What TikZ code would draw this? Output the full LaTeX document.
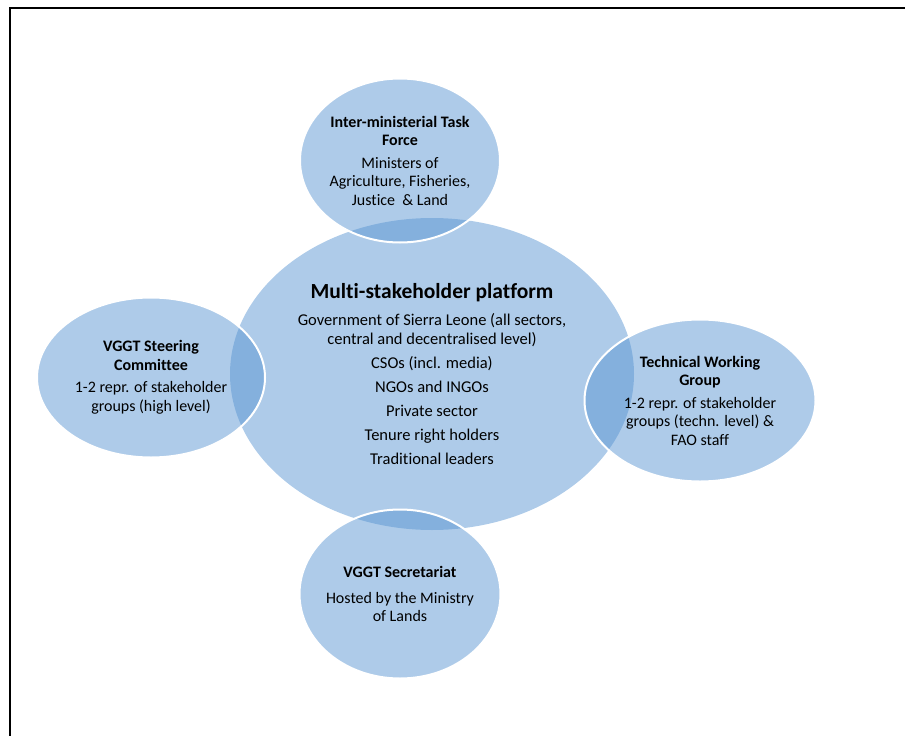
\documentclass[tikz,border=0pt]{standalone}
\usepackage{fontspec}
\setmainfont[Ligatures=CommonOff]{Carlito}
\usetikzlibrary{shapes.geometric}
\definecolor{bubble}{RGB}{86,147,209}
\begin{document}
\begin{tikzpicture}[
    x=1pt, y=-1pt,
    every node/.style={ellipse, fill=bubble, fill opacity=0.48, text opacity=1, inner sep=-12pt, align=center, font=\fontsize{16}{18.5}\selectfont},
    hub/.style={minimum width=404pt, minimum height=312pt, font=\fontsize{16.5}{19}\selectfont},
    sat/.style={draw=white, draw opacity=1, line width=2pt},
    frame/.style={line width=2pt}
]
\useasboundingbox (0,0) rectangle (905,736);
\draw[frame] (9.5,745) |- (915,7.5);
% platform in the middle, the four bodies around it
\node[hub] (platform) at (432,374) {{\fontsize{21.5}{24}\selectfont\bfseries Multi-stakeholder platform}\\[8pt]
    Government of Sierra Leone (all sectors,\\ central and decentralised level)\\[5pt]
    CSOs (incl. media)\\[5pt] NGOs and INGOs\\[5pt] Private sector\\[5pt]
    Tenure right holders\\[5pt] Traditional leaders};
\node[sat, minimum width=200pt, minimum height=164pt] (taskforce) at (400,160.5)
    {\textbf{Inter-ministerial Task}\\ \textbf{Force}\\[4pt] Ministers of\\ Agriculture, Fisheries,\\ Justice~ \& Land};
\node[sat, minimum width=228pt, minimum height=160pt] (steering) at (151,377.5)
    {\textbf{VGGT Steering}\\ \textbf{Committee}\\[4pt] 1-2 repr. of stakeholder\\ groups (high level)};
\node[sat, minimum width=231pt, minimum height=162pt] (working) at (700,400.5)
    {\textbf{Technical Working}\\ \textbf{Group}\\[4pt] 1-2 repr. of stakeholder\\ groups (techn. level) \&\\ FAO staff};
\node[sat, minimum width=201pt, minimum height=169pt] (secretariat) at (400,594)
    {\textbf{VGGT Secretariat}\\[7pt] Hosted by the Ministry\\ of Lands};
\end{tikzpicture}
\end{document}
